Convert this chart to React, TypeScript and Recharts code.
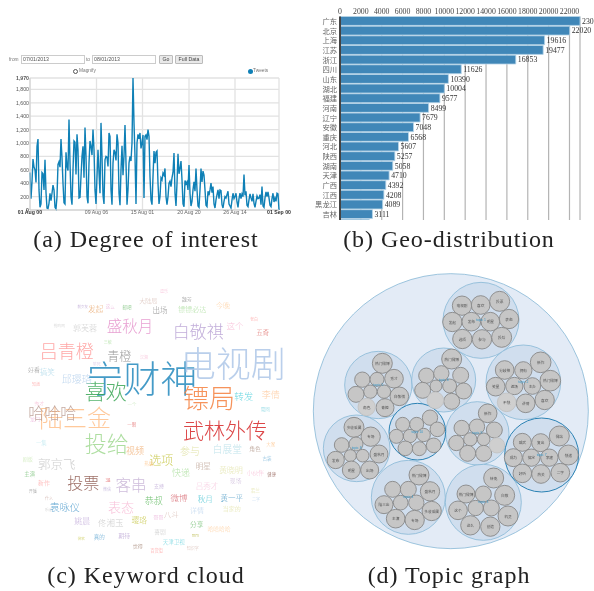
import { Bar, BarChart, CartesianGrid, LabelList, Line, LineChart, Scatter, ScatterChart, XAxis, YAxis } from "recharts";

const CJK = '"Noto Sans CJK SC", sans-serif';
const SERIF = '"Liberation Serif", serif';
const SANS = '"Liberation Sans", sans-serif';

// (a) tweets, one reading per pixel of the plot
const tweets = [
  560, 170, 420, 760, 640, 600, 410, 950, 1060, 300, 40, 90, 560, 540, 300, 750, 260, 30, 20, 100,
  250, 140, 250, 370, 300, 40, 15, 200, 680, 720, 640, 1060, 780, 400, 110, 90, 860, 650, 590, 1350,
  700, 200, 80, 600, 1030, 1010, 530, 1130, 900, 180, 190, 500, 800, 950, 480, 1230, 800, 200, 100, 700,
  1030, 950, 820, 1200, 900, 300, 90, 500, 900, 560, 250, 1300, 800, 220, 90, 750, 800, 790, 650, 1150,
  1100, 300, 80, 700, 900, 860, 740, 1130, 1000, 250, 70, 600, 960, 520, 800, 1270, 700, 80, 300, 700,
  800, 730, 1000, 1970, 1300, 800, 90, 1000, 1130, 1060, 1150, 920, 1000, 1120, 180, 1100, 1120, 1050, 1200, 1100,
  500, 150, 80, 500, 880, 700, 860, 880, 400, 90, 200, 480, 450, 550, 520, 620, 200, 80, 200, 400,
  430, 350, 480, 560, 850, 250, 60, 400, 840, 540, 620, 730, 450, 90, 50, 440, 390, 420, 300, 670,
  250, 60, 130, 300, 420, 280, 620, 300, 60, 40, 300, 620, 420, 580, 520, 300, 70, 50, 280, 220,
  300, 400, 260, 350, 90, 30, 150, 230, 300, 170, 300, 290, 80, 30, 130, 200, 180, 230, 280, 90,
  60, 30, 150, 250, 170, 200, 250, 120, 40, 170, 250, 170, 240, 200, 530, 220, 280, 70, 50, 150,
  240, 180, 130, 240, 100, 40, 130, 210, 170, 180, 230, 80, 350, 60, 40, 180, 270, 200, 270, 180,
  70, 50, 170, 250, 120, 180, 130, 250, 240, 0,
];
const tweetTickPos = [0, 66.5, 112.5, 159, 205, 249];
const tweetTickLabels = ["01 Aug 00", "09 Aug 06", "15 Aug 01", "20 Aug 20", "26 Aug 14", "01 Sep 00"];
const tweetYTicks = [0, 200, 400, 600, 800, 1000, 1200, 1400, 1600, 1800, 1970];

// (b) provinces
const provinces = [
  "广东", "北京", "上海", "江苏", "浙江", "四川", "山东", "湖北", "福建", "河南", "辽宁",
  "安徽", "重庆", "河北", "陕西", "湖南", "天津", "广西", "江西", "黑龙江", "吉林", "云南",
];
const provinceCounts = [
  23008, 22020, 19616, 19477, 16853, 11626, 10390, 10004, 9577, 8499, 7679,
  7048, 6568, 5607, 5257, 5058, 4710, 4392, 4208, 4089, 3111, 2800,
];
const countTicks = [0, 2000, 4000, 6000, 8000, 10000, 12000, 14000, 16000, 18000, 20000, 22000];

// (c) keyword cloud
const cloudWords = [
  "宁财神", "电视剧", "镖局", "武林外传", "喜欢", "陆三金", "哈哈哈", "吕青橙", "青橙", "盛秋月",
  "白敬祺", "郭芙蓉", "这个", "五奇", "出场", "镖镖必达", "今晚", "发起", "这么", "前女友",
  "邮吧", "大陆局", "魏芳", "逗乐", "老白", "抢购网", "三敏", "好看", "搞笑", "邱璎珞",
  "转发", "李倩", "晃网", "一个", "一眼", "龙门", "秀才", "知道", "笑死", "汉湘",
  "投给", "视频", "参与", "白展堂", "角色", "大家", "古装", "一集", "剧版", "郭京飞",
  "选项", "热播", "明星", "黄晓明", "快递", "小伙伴", "健康", "主演", "新作", "投票",
  "38", "客串", "微信", "支持", "吕秀才", "现场", "开播", "什么", "若兰", "二字",
  "恭叔", "微博", "秋月", "黄一平", "袁咏仪", "乐迷", "表态", "详情", "当家的", "八斗",
  "佟湘玉", "姚晨", "璎珞", "哥哥", "分享", "哈哈哈哈", "喜剧", "期待", "真的", "微软",
  "mm", "天津卫视", "觉得", "百货街", "知识字",
];
const cloudX = [
  395, 670, 597, 645, 287, 195, 127, 170, 328, 360,
  565, 225, 675, 758, 450, 547, 639, 257, 301, 218,
  351, 415, 530, 462, 732, 148, 293, 72, 112, 200,
  701, 782, 766, 366, 365, 75, 88, 78, 260, 402,
  290, 375, 540, 652, 735, 782, 771, 94, 53, 140,
  454, 416, 580, 663, 513, 736, 785, 59, 102, 220,
  294, 363, 291, 447, 591, 677, 68, 117, 736, 738,
  431, 507, 586, 665, 164, 115, 333, 561, 665, 484,
  302, 217, 388, 445, 560, 627, 450, 343, 268, 214,
  556, 491, 383, 440, 548,
];
const cloudY = [
  290, 245, 350, 448, 330, 410, 395, 210, 225, 135,
  150, 142, 135, 155, 87, 88, 75, 85, 78, 80,
  82, 62, 55, 33, 118, 137, 186, 267, 274, 295,
  348, 343, 388, 372, 433, 415, 367, 313, 253, 231,
  485, 512, 510, 508, 504, 493, 535, 488, 534, 550,
  538, 550, 555, 568, 578, 578, 583, 582, 608, 606,
  600, 612, 627, 615, 615, 600, 634, 654, 630, 658,
  662, 650, 654, 652, 678, 687, 678, 691, 686, 703,
  726, 720, 718, 708, 733, 746, 755, 767, 770, 775,
  766, 786, 796, 810, 805,
];
const cloudWeight = [
  37, 35, 26, 21, 21, 24, 16, 18, 12, 15.5,
  17, 8, 8.5, 6.5, 7.5, 7, 7, 7.5, 4.5, 3.5,
  4.5, 6, 5, 4, 4, 3.7, 4, 6, 7.5, 10,
  9.5, 9, 4.5, 4.5, 4.5, 5, 5, 4, 4, 4,
  22, 9, 10, 9.7, 5.7, 4.5, 4.5, 5.3, 5, 12.5,
  12, 4.5, 7.5, 7.8, 9, 5.8, 4.3, 5.3, 6, 16,
  4.5, 15.5, 4, 5, 7.5, 5.8, 4, 4, 4.5, 4,
  9, 8.5, 7.5, 7.5, 10, 3.5, 13, 7, 6, 7.5,
  8.5, 8, 7.8, 5, 6.7, 5.8, 5.8, 6, 5.5, 3.5,
  4, 5.5, 5, 4.3, 4,
];
const cloudColors = [
  "#2589bd", "#aec7e8", "#f5803e", "#d62728", "#3aa655", "#ffc08a", "#b89a90", "#ff9896", "#8a8a8a", "#e48fca",
  "#b7a0d3", "#c7c7c7", "#f7b6d2", "#d9534f", "#7f7f7f", "#a8dd9a", "#ffcb98", "#e8a060", "#e9a9d6", "#a88cc8",
  "#55b055", "#d4b5ac", "#8a8a8a", "#f7b6d2", "#ff9896", "#c7c7c7", "#a8dd9a", "#8c8c8c", "#a5d5e8", "#b5d0ec",
  "#4fd0dc", "#ffc89a", "#72cfdc", "#c6e6b8", "#e06060", "#e9a9d6", "#f7b6d2", "#ff9896", "#d4c0e4", "#f7b6d2",
  "#a0d890", "#f0a868", "#dfe0a0", "#b8e0ea", "#a08070", "#ffbb78", "#6baed6", "#b8e6ee", "#c8e8b0", "#c7c7c7",
  "#c4c440", "#ffbb78", "#b09080", "#dfe0a0", "#a8dd9a", "#f7b6d2", "#8c564b", "#55b055", "#ff9896", "#8c564b",
  "#d62728", "#c5b0d5", "#b09fd0", "#a88cc8", "#f7c6dd", "#c5b0d5", "#8a8a8a", "#c49c94", "#dfe0a0", "#b5d0ec",
  "#5cb85c", "#d6616b", "#3bc0d0", "#3a8fc0", "#4a9acb", "#c7c7c7", "#f7b6d2", "#b5d0ec", "#dfe0a0", "#d4b5ac",
  "#c7c7c7", "#c0a8d8", "#c4c440", "#e9a9d6", "#55b055", "#ffcb98", "#c7c7c7", "#a88cc8", "#4a9acb", "#c4c440",
  "#a8a820", "#5fd0dc", "#a08070", "#ff9896", "#d4b5ac",
];

// (d) topic graph: [x, y, r, label]
const topicRoot = [[422.5, 423.5, 412.5]];
const topicGroups = [
  [513, 151, 114, "topic 1"], [205, 345, 101, "topic 5"], [401, 330, 96, "topic 6"], [640, 337, 112, "topic 2"],
  [140, 535, 100, "topic 8"], [502, 490, 95, "topic 9"], [295, 682, 111, "topic 4"], [520, 697, 114, "topic 3"],
];
const topicFocus = [[322, 485, 85, "topic 10"], [695, 555, 111, "topic 7"]];
const topicLeaves = [
  [456, 107, 29, "电视剧"], [512, 105, 28, "喜欢"], [569, 94, 30, "投票"], [427, 156, 29, "发起"], [484, 155, 28, "发布"],
  [541, 155, 28, "明星"], [597, 147, 29, "表态"], [457, 207, 29, "选项"], [516, 208, 29, "参与"], [575, 202, 30, "投给"],
  [217, 280, 30, "热门微博"], [157, 329, 23, ""], [201, 328, 21, ""], [252, 326, 28, "秀才"], [181, 365, 20, ""],
  [222, 365, 20, ""], [138, 373, 24, ""], [268, 379, 28, "白敬祺"], [225, 413, 27, "青橙"],
  [425, 267, 30, "热门微博"], [349, 317, 23, ""], [394, 310, 23, ""], [452, 316, 24, ""], [378, 348, 18, ""],
  [419, 348, 21, ""], [338, 361, 24, ""], [461, 363, 24, ""], [425, 394, 24, ""],
  [692, 277, 31, "新作"], [584, 300, 28, "分歧神"], [640, 301, 26, "拥有"], [721, 332, 31, "热门微博"], [557, 350, 28, "笑星"],
  [613, 348, 26, "遮场"], [667, 348, 25, "主办"], [704, 390, 29, "喜欢"], [647, 400, 28, "讲情"],
  [132, 472, 30, "多收采属"], [182, 500, 29, "专场"], [95, 525, 22, ""], [138, 522, 21, ""], [121, 557, 18, ""],
  [158, 557, 19, ""], [207, 552, 27, "盛秋月"], [77, 570, 26, "发布"], [124, 600, 27, "明星"], [179, 600, 27, "出场"],
  [278, 463, 21, ""], [320, 463, 21, ""], [360, 443, 23, ""], [382, 478, 22, ""], [259, 499, 21, ""],
  [300, 498, 20, ""], [341, 495, 20, ""], [286, 535, 22, ""], [328, 536, 21, ""], [371, 526, 22, ""],
  [533, 430, 28, "新作"], [455, 474, 23, ""], [501, 470, 23, ""], [553, 480, 24, ""], [439, 519, 23, ""],
  [481, 508, 20, ""], [521, 508, 19, ""], [473, 550, 24, ""], [521, 550, 24, ""],
  [748, 498, 30, "微站"], [637, 517, 27, "威武"], [692, 518, 27, "复出"], [775, 555, 30, "快递"], [610, 563, 27, "成为"],
  [664, 563, 26, "搞定"], [718, 563, 26, "李建"], [751, 608, 28, "二字"], [637, 610, 28, "好听"], [693, 612, 28, "热关"],
  [327, 615, 30, "热门微博"], [248, 658, 24, ""], [295, 658, 24, ""], [360, 664, 29, "盛秋月"], [222, 704, 27, "陆三金"],
  [272, 698, 22, ""], [319, 698, 23, ""], [365, 723, 29, "多收采属"], [257, 746, 28, "主演"], [314, 750, 29, "专场"],
  [551, 624, 30, "转兔"], [468, 672, 27, "热门微博"], [520, 672, 24, ""], [584, 676, 30, "白敬"], [444, 721, 28, "这个"],
  [497, 714, 23, ""], [544, 714, 24, ""], [594, 738, 30, "机灵"], [481, 766, 29, "这么"], [541, 770, 29, "创造"],
];
const topicFaded = [[170, 411, 26, "角色"], [376, 391, 25, ""], [590, 397, 28, "不快"], [561, 526, 23, ""]];

const tweetData = tweets.map((v, i) => ({ i, v }));
const provinceData = provinces.map((name, i) => ({ name, count: provinceCounts[i] }));
const cloudData = cloudWords.map((word, i) => ({
  word,
  x: cloudX[i],
  y: cloudY[i],
  weight: cloudWeight[i],
  color: cloudColors[i],
}));
const toNodes = (rows: any[]) => rows.map(([x, y, r, label]) => ({ x, y, r, label }));

const TweetXTick = ({ x, y, payload, index }: any) => {
  const edge = index === 0 || index === tweetTickPos.length - 1;
  return (
    <text x={x} y={y} dy={3} textAnchor="middle" fontFamily={SANS} fontSize={5.2} fontWeight={edge ? 700 : 400} fill={edge ? "#333" : "#666"}>
      {tweetTickLabels[tweetTickPos.indexOf(payload.value)]}
    </text>
  );
};

const TweetYTick = ({ x, y, payload }: any) => (
  <text x={x} y={y} dy={2} textAnchor="end" fontFamily={SANS} fontSize={5.2} fontWeight={payload.value === 1970 || payload.value === 0 ? 700 : 400} fill="#555">
    {payload.value.toLocaleString("en-US")}
  </text>
);

function Interest() {
  return (
    <div style={{ position: "absolute", left: 0, top: 70 }}>
      <LineChart width={297} height={160} data={tweetData} margin={{ top: 8, right: 18, bottom: 0, left: 5 }}>
        <CartesianGrid stroke="#e2e2e2" strokeWidth={1.3} />
        <XAxis dataKey="i" type="number" domain={[0, 249]} ticks={tweetTickPos} height={20} tick={<TweetXTick />} tickSize={0} tickMargin={1} tickLine={false} axisLine={{ stroke: "#d0d0d0" }} interval={0} />
        <YAxis type="number" domain={[0, 1970]} ticks={tweetYTicks} width={25} tick={<TweetYTick />} tickSize={0} tickLine={false} axisLine={{ stroke: "#d0d0d0" }} tickMargin={1} interval={0} />
        <Line dataKey="v" type="linear" stroke="#0f80b6" strokeWidth={1.4} dot={false} isAnimationActive={false} />
      </LineChart>
    </div>
  );
}

function Geo() {
  return (
    <div style={{ position: "absolute", left: 300, top: 0, width: 294, height: 220, overflow: "hidden" }}>
      <BarChart width={300} height={229} data={provinceData} layout="vertical" barSize={8.9} margin={{ top: 0, right: 20, bottom: 0, left: 0 }}>
        <CartesianGrid horizontal={false} stroke="#b4b4b4" strokeWidth={1.2} />
        <XAxis type="number" orientation="top" domain={[0, 23000]} ticks={countTicks} height={16.5} axisLine={false} tickSize={0} tickLine={false} tickMargin={3} interval={0} tick={{ fontFamily: SERIF, fontSize: 7.8, fill: "#444" }} />
        <YAxis type="category" dataKey="name" width={40} interval={0} tickSize={0} tickLine={false} tickMargin={3} axisLine={{ stroke: "#444", strokeWidth: 2 }} tick={{ fontFamily: CJK, fontSize: 7.3, fill: "#666" }} />
        <Bar dataKey="count" fill="#4087b8" stroke="#b9d5e8" strokeWidth={0.8} isAnimationActive={false}>
          <LabelList dataKey="count" position="right" offset={2} fontFamily={SERIF} fontSize={7.8} fill="#333" />
        </Bar>
      </BarChart>
    </div>
  );
}

const CloudWord = ({ cx, cy, payload }: any) => (
  <text x={cx} y={cy} textAnchor="middle" dominantBaseline="central" fontFamily={CJK} fontWeight={300} fontSize={payload.weight} fill={payload.color} fillOpacity={0.85}>
    {payload.word}
  </text>
);

function Cloud() {
  return (
    <div style={{ position: "absolute", left: 10, top: 280 }}>
      <ScatterChart width={290} height={310} margin={{ top: 0, right: 0, bottom: 0, left: 0 }}>
        <XAxis dataKey="x" type="number" domain={[0, 870]} hide />
        <YAxis dataKey="y" type="number" domain={[0, 930]} reversed hide />
        <Scatter data={cloudData} shape={<CloudWord />} isAnimationActive={false} />
      </ScatterChart>
    </div>
  );
}

const makeNode = (fill: string, stroke: string, strokeWidth: number) => ({ cx, cy, payload }: any) =>
  <circle cx={cx} cy={cy} r={payload.r / 3} fill={fill} stroke={stroke} strokeWidth={strokeWidth} />;

const NodeLabel = ({ cx, cy, payload }: any) => (
  <text x={cx} y={cy} textAnchor="middle" dominantBaseline="central" fontFamily={CJK} fontSize={3.7} fill="#555">
    {payload.label}
  </text>
);

const GroupLabel = ({ cx, cy, payload }: any) => (
  <text x={cx} y={cy} textAnchor="middle" dominantBaseline="central" fontFamily={SANS} fontSize={3.4} fill="#3a98c8">
    {payload.label}
  </text>
);

function Topics() {
  const groups = [...toNodes(topicGroups), ...toNodes(topicFocus)];
  return (
    <div style={{ position: "absolute", left: 310, top: 270 }}>
      <ScatterChart width={280} height={300} margin={{ top: 0, right: 0, bottom: 0, left: 0 }}>
        <XAxis dataKey="x" type="number" domain={[0, 840]} hide />
        <YAxis dataKey="y" type="number" domain={[0, 900]} reversed hide />
        <Scatter data={toNodes(topicRoot)} shape={makeNode("#e3ebf6", "#86b8d6", 0.8)} isAnimationActive={false} />
        <Scatter data={toNodes(topicGroups)} shape={makeNode("#d0deee", "#86b8d6", 0.8)} isAnimationActive={false} />
        <Scatter data={toNodes(topicFocus)} shape={makeNode("#d0deee", "#2b82b4", 1)} isAnimationActive={false} />
        <Scatter data={toNodes(topicLeaves)} shape={makeNode("#c6c6c6", "#888888", 0.9)} isAnimationActive={false} />
        <Scatter data={toNodes(topicFaded)} shape={makeNode("#cfcfcf", "#c0c0c0", 0.8)} isAnimationActive={false} />
        <Scatter data={toNodes([...topicLeaves, ...topicFaded])} shape={<NodeLabel />} isAnimationActive={false} />
        <Scatter data={groups} shape={<GroupLabel />} isAnimationActive={false} />
      </ScatterChart>
    </div>
  );
}

const Caption = ({ cx, top, text }: { cx: number; top: number; text: string }) => (
  <div style={{ position: "absolute", left: cx - 150, top, width: 300, textAlign: "center", fontFamily: SERIF, fontSize: 24, lineHeight: "28px", letterSpacing: 0.95, color: "#222", whiteSpace: "nowrap" }}>
    {text}
  </div>
);

const Field = ({ left, width, text }: { left: number; width: number; text: string }) => (
  <div style={{ position: "absolute", left, top: 55, width, height: 9, boxSizing: "border-box", border: "1px solid #ccc", fontFamily: SANS, fontSize: 5.2, lineHeight: "7px", paddingLeft: 1, color: "#555" }}>
    {text}
  </div>
);

const Small = ({ left, top, text }: { left: number; top: number; text: string }) => (
  <div style={{ position: "absolute", left, top, fontFamily: SANS, fontSize: 4.8, lineHeight: "6px", color: "#777", whiteSpace: "nowrap" }}>
    {text}
  </div>
);

const Button = ({ left, width, text }: { left: number; width: number; text: string }) => (
  <div style={{ position: "absolute", left, top: 55, width, height: 9, boxSizing: "border-box", border: "1px solid #bbb", background: "#e9e9e9", borderRadius: 1, fontFamily: SANS, fontSize: 5.2, lineHeight: "7px", textAlign: "center", color: "#444" }}>
    {text}
  </div>
);

function Controls() {
  return (
    <>
      <Small left={9} top={57} text="from" />
      <Field left={21} width={64} text="07/01/2013" />
      <Small left={86} top={57} text="to" />
      <Field left={92} width={64} text="08/01/2013" />
      <Button left={159} width={14} text="Go" />
      <Button left={175} width={28} text="Full Data" />
      <div style={{ position: "absolute", left: 73, top: 69, width: 5, height: 5, boxSizing: "border-box", border: "1px solid #555", borderRadius: "50%" }} />
      <Small left={79} top={68} text="Magnify" />
      <div style={{ position: "absolute", left: 248, top: 69, width: 5, height: 5, borderRadius: "50%", background: "#0f80b6" }} />
      <Small left={253} top={68} text="Tweets" />
    </>
  );
}

export default function App() {
  return (
    <div style={{ position: "absolute", left: 0, top: 0, width: 594, height: 591, overflow: "hidden", background: "#fff", filter: "blur(0.35px)" }}>
      <Controls />
      <Interest />
      <Geo />
      <Cloud />
      <Topics />
      <Caption cx={146} top={225} text="(a) Degree of interest" />
      <Caption cx={449} top={225} text="(b) Geo-distribution" />
      <Caption cx={146} top={561} text="(c) Keyword cloud" />
      <Caption cx={449} top={561} text="(d) Topic graph" />
    </div>
  );
}
